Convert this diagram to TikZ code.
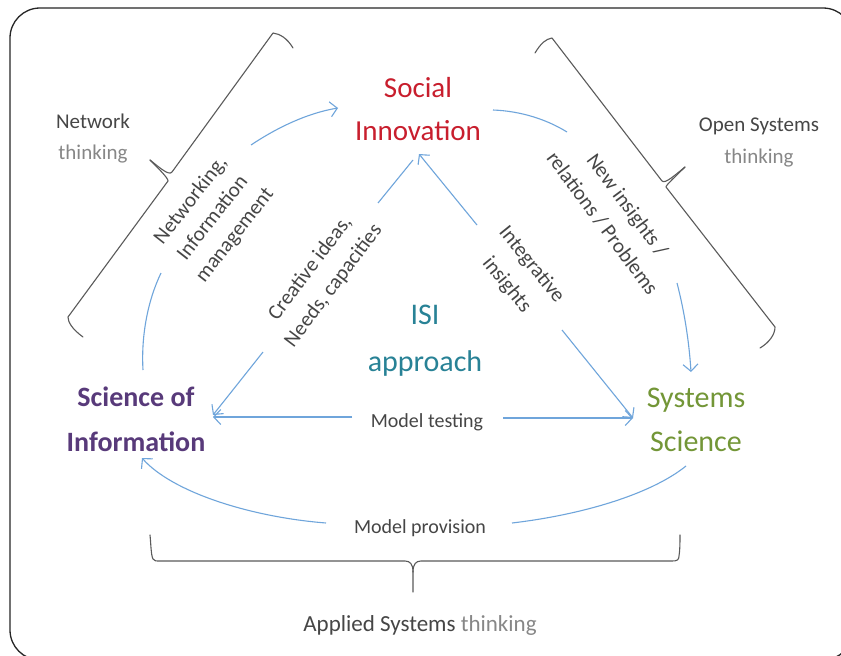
\documentclass[tikz,border=0pt]{standalone}
\usepackage{fontspec}
\setmainfont{Carlito}
\usetikzlibrary{arrows.meta}
\definecolor{arrblue}{RGB}{111,165,219}
\definecolor{darktxt}{RGB}{70,70,70}
\definecolor{lighttxt}{RGB}{135,135,135}
\definecolor{sired}{RGB}{200,30,45}
\definecolor{sipurple}{RGB}{88,58,122}
\definecolor{sigreen}{RGB}{115,150,55}
\definecolor{siteal}{RGB}{40,130,150}
\definecolor{brk}{RGB}{90,90,90}
\tikzset{
  flow/.style={draw=arrblue, line width=1.1pt},
  flowarrow/.style={flow, -{Straight Barb[length=7pt,width=15pt]}},
  brace/.style={draw=brk, line width=1.1pt, line join=round, line cap=round},
  lbl/.style={text=darktxt, align=center, inner sep=0pt},
}
\begin{document}
\begin{tikzpicture}[x=1pt,y=-1pt]
\useasboundingbox (0,0) rectangle (841,656);
\fill[white] (0,0) rectangle (841,656);
\begin{scope}
\clip (0,0) rectangle (841,656);
\draw[line width=1.3pt, rounded corners=30pt, draw=black!85] (10,8) rectangle (853,660);
\end{scope}

% main nodes
\node[text=sired, align=center, inner sep=0pt, font=\fontsize{29}{43}\selectfont] (si) at (418,109) {Social\\Innovation};
\node[text=sipurple, align=center, inner sep=0pt, font=\bfseries\fontsize{28}{45}\selectfont] (sci) at (136,419) {Science of\\Information};
\node[text=sigreen, align=center, inner sep=0pt, font=\fontsize{30}{44}\selectfont] (ss) at (696,420) {Systems\\Science};
\node[text=siteal, align=center, inner sep=0pt, font=\fontsize{30}{47}\selectfont] (isi) at (425,341) {ISI\\approach};

% side labels
\node[align=center, inner sep=0pt, font=\fontsize{21}{31}\selectfont] (nt) at (93,139) {\textcolor{darktxt}{Network}\\\textcolor{lighttxt}{thinking}};
\node[align=center, inner sep=0pt, font=\fontsize{21}{32}\selectfont] (ost) at (759,142) {\textcolor{darktxt}{Open Systems}\\\textcolor{lighttxt}{thinking}};
\node[inner sep=0pt, font=\fontsize{23}{28}\selectfont] (ast) at (420,625) {\textcolor{darktxt}{Applied Systems} \textcolor{lighttxt}{thinking}};

% edge labels
\node[lbl, font=\fontsize{20}{24}\selectfont] (mt) at (427,422) {Model testing};
\node[lbl, font=\fontsize{20}{24}\selectfont] (mp) at (420,528) {Model provision};
\node[lbl, rotate=52, font=\fontsize{21}{28}\selectfont] (nim) at (213,218) {Networking,\\Information\\management};
\node[lbl, rotate=53, font=\fontsize{21}{29}\selectfont] (cin) at (322,277) {Creative ideas,\\Needs, capacities};
\node[lbl, rotate=-51, font=\fontsize{21}{32}\selectfont] (ii) at (519,275) {Integrative\\insights};
\node[lbl, rotate=-53.5, font=\fontsize{21}{31}\selectfont] (nir) at (615,214) {New insights /\\relations / Problems};

% connector end points
\coordinate (l1a) at (143,370); \coordinate (l1b) at (161,273);
\coordinate (l2a) at (251,145); \coordinate (l2b) at (338,108);
\coordinate (r1a) at (493,110); \coordinate (r1b) at (567,132);
\coordinate (r2a) at (677,283); \coordinate (r2b) at (691,372);
\coordinate (c1a) at (413,160); \coordinate (c1b) at (378,203);
\coordinate (c2a) at (263,352); \coordinate (c2b) at (213,415);
\coordinate (i1a) at (477,225); \coordinate (i1b) at (419,154);
\coordinate (i2a) at (562,330); \coordinate (i2b) at (633,418);
\coordinate (m1a) at (352,417); \coordinate (m1b) at (213,417);
\coordinate (m2a) at (503,418); \coordinate (m2b) at (633,418);
\coordinate (p1a) at (686,466); \coordinate (p1b) at (512,523);
\coordinate (p2a) at (326,523); \coordinate (p2b) at (142,458);

% connectors
\draw[flow] (l1a) .. controls (141,335) and (148,300) .. (l1b);
\draw[flowarrow] (l2a) .. controls (278,127) and (308,113) .. (l2b);
\draw[flow] (r1a) .. controls (520,111) and (546,119) .. (r1b);
\draw[flowarrow] (r2a) .. controls (684,310) and (689,340) .. (r2b);
\draw[flow] (c1a) -- (c1b);
\draw[flowarrow] (c2a) -- (c2b);
\draw[flowarrow] (i1a) -- (i1b);
\draw[flowarrow] (i2a) -- (i2b);
\draw[flowarrow] (m1a) -- (m1b);
\draw[flowarrow] (m2a) -- (m2b);
\draw[flow] (p1a) .. controls (650,495) and (580,515) .. (p1b);
\draw[flowarrow] (p2a) .. controls (250,517) and (172,492) .. (p2b);

% brackets
\draw[brace] (293,48) .. controls (287,38) and (280,34) .. (273,33)
  -- (172,172) .. controls (169,176) and (160,168) .. (150,160);
\draw[brace] (150,160) .. controls (160,170) and (168,178) .. (168,181)
  -- (68,317) .. controls (68,322) and (72,329) .. (83,337);
\draw[brace] (535,53) .. controls (541,43) and (546,39) .. (552,38)
  -- (662,181) .. controls (665,184) and (674,176) .. (685,167);
\draw[brace] (685,167) .. controls (676,176) and (666,185) .. (666,187)
  -- (775,327) .. controls (775,334) and (770,342) .. (760,348);
\draw[brace] (150,535) .. controls (151,545) and (151,555) .. (153,559)
  .. controls (154,561) and (156,561) .. (160,561) -- (405,561)
  .. controls (410,561) and (413,564) .. (413,572) -- (413,592);
\draw[brace] (413,572) .. controls (413,564) and (416,561) .. (421,561)
  -- (672,561) .. controls (677,561) and (679,560) .. (679,556)
  .. controls (680,550) and (680,542) .. (680,535);
\end{tikzpicture}
\end{document}
